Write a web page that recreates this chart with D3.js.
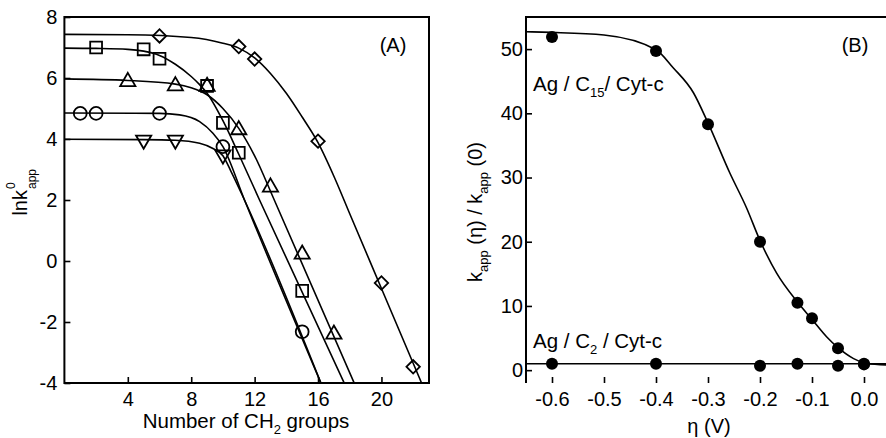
<!DOCTYPE html>
<html>
<head>
<meta charset="utf-8">
<script src="https://cdn.jsdelivr.net/npm/d3@7"></script>
<style>
  body { margin: 0; background: #fff; }
  svg { font-family: "Liberation Sans", Arial, sans-serif; }
  .axis path { display: none; }
  .axis line { stroke: #000; stroke-width: 1.6; }
  .axis text { font-size: 20px; fill: #000; }
</style>
</head>
<body>
<div id="container"></div>
<script>
// ---- panel A: ln k0 vs number of CH2 groups ----
const aTicksX = [4, 8, 12, 16, 20];
const aTicksY = [-4, -2, 0, 2, 4, 6, 8];

const diamondX = [6, 11, 12, 16, 20, 22];
const diamondY = [7.38, 7.03, 6.62, 3.93, -0.72, -3.47];
const squareX = [2, 5, 6, 9, 10, 11, 15];
const squareY = [7.0, 6.94, 6.63, 5.74, 4.53, 3.55, -0.98];
const triangleX = [4, 7, 9, 11, 13, 15, 17];
const triangleY = [5.88, 5.74, 5.72, 4.3, 2.42, 0.22, -2.4];
const circleX = [1, 2, 6, 10, 15];
const circleY = [4.84, 4.84, 4.84, 3.75, -2.32];
const invTriX = [5, 7, 10];
const invTriY = [3.97, 3.97, 3.48];

// fitted curves
const diamondFitX = [0, 4, 8, 10, 11, 12, 13, 14, 15, 16, 17, 18, 20, 22.53];
const diamondFitY = [7.43, 7.42, 7.33, 7.14, 6.98, 6.66, 6.15, 5.5, 4.72, 3.88, 2.78, 1.55, -0.9, -4];
const squareFitX = [0, 2, 4, 5, 6, 7, 8, 8.5, 9, 10, 11, 12.31, 17.65];
const squareFitY = [6.98, 6.97, 6.94, 6.88, 6.74, 6.45, 6.05, 5.8, 5.5, 4.6, 3.5, 2.0, -4];
const triangleFitX = [0, 4, 7, 8, 9, 10, 11, 12, 13.24, 18.28];
const triangleFitY = [5.97, 5.92, 5.8, 5.68, 5.45, 5.0, 4.35, 3.45, 2.0, -4];
const circleFitX = [0, 6, 7.27, 8.53, 9.37, 10, 11.36, 16.18];
const circleFitY = [4.85, 4.84, 4.79, 4.57, 4.19, 3.75, 2.0, -4];
const invTriFitX = [0, 5, 7, 8.53, 9.37, 10, 10.5, 11.36, 16.18];
const invTriFitY = [3.99, 3.98, 3.96, 3.86, 3.69, 3.45, 2.95, 2.0, -4];

// ---- panel B: k(eta)/k(0) vs overpotential ----
const bTicksX = [-0.6, -0.5, -0.4, -0.3, -0.2, -0.1, 0.0];
const bTicksY = [0, 10, 20, 30, 40, 50];

const etaC15 = [-0.6, -0.4, -0.3, -0.2, -0.128, -0.1, -0.05, 0.0];
const ratioC15 = [51.9, 49.7, 38.3, 20.0, 10.5, 8.1, 3.4, 0.9];
const etaC2 = [-0.6, -0.4, -0.2, -0.128, -0.05, 0.0];
const ratioC2 = [1.0, 1.0, 0.7, 1.0, 0.7, 1.0];

const etaFitC15 = [-0.65, -0.6, -0.5, -0.4, -0.367, -0.328, -0.3, -0.258, -0.226, -0.2, -0.168, -0.128, -0.1, -0.072, -0.05, -0.02, 0.005, 0.05];
const ratioFitC15 = [52.7, 52.6, 52.2, 49.9, 47.1, 43.2, 38.5, 30.7, 25.3, 20.2, 15.1, 10.6, 7.9, 5.2, 3.5, 1.8, 1.05, 0.8];
const etaFitC2 = [-0.65, 0.05];
const ratioFitC2 = [1.0, 1.0];

const zip = (xs, ys) => xs.map((x, i) => ({ x, y: ys[i] }));
const hyphen = f => d => f(d).replace('\u2212', '-');

const width = 886;
const height = 438;

const svg = d3.select('#container').append('svg')
  .attr('width', width)
  .attr('height', height);

svg.append('defs').append('clipPath').attr('id', 'clipA')
  .append('rect').attr('x', 64.4).attr('y', 17).attr('width', 364.6).attr('height', 366);
svg.select('defs').append('clipPath').attr('id', 'clipB')
  .append('rect').attr('x', 526).attr('y', 17).attr('width', 364).attr('height', 366);

// ===== panel A =====
const xA = d3.scaleLinear().domain([0, 23]).range([64.4, 429]);
const yA = d3.scaleLinear().domain([-4, 8]).range([383, 17]);

svg.append('g')
  .attr('class', 'axis')
  .attr('transform', 'translate(0,383)')
  .call(d3.axisBottom(xA).tickValues(aTicksX).tickSize(-6).tickSizeOuter(0).tickPadding(9));

svg.append('g')
  .attr('class', 'axis')
  .attr('transform', 'translate(64.4,0)')
  .call(d3.axisLeft(yA).tickValues(aTicksY).tickSize(-6).tickSizeOuter(0).tickPadding(7)
    .tickFormat(hyphen(d3.format('d'))));

const lineA = d3.line().x(d => xA(d.x)).y(d => yA(d.y)).curve(d3.curveMonotoneX);

const fitsA = [
  [diamondFitX, diamondFitY],
  [squareFitX, squareFitY],
  [triangleFitX, triangleFitY],
  [circleFitX, circleFitY],
  [invTriFitX, invTriFitY]
];

svg.append('g').attr('clip-path', 'url(#clipA)')
  .selectAll('path')
  .data(fitsA)
  .enter()
  .append('path')
  .attr('d', f => lineA(zip(f[0], f[1])))
  .attr('fill', 'none')
  .attr('stroke', '#000')
  .attr('stroke-width', 1.6);

const markersA = [
  { pts: zip(diamondX, diamondY), type: d3.symbolSquare, size: 90, rot: 45 },
  { pts: zip(squareX, squareY), type: d3.symbolSquare, size: 140, rot: 0 },
  { pts: zip(triangleX, triangleY), type: d3.symbolTriangle, size: 100, rot: 0 },
  { pts: zip(circleX, circleY), type: d3.symbolCircle, size: 130, rot: 0 },
  { pts: zip(invTriX, invTriY), type: d3.symbolTriangle, size: 100, rot: 180 }
];

markersA.forEach(m => {
  svg.append('g')
    .selectAll('path')
    .data(m.pts)
    .enter()
    .append('path')
    .attr('d', d3.symbol().type(m.type).size(m.size))
    .attr('transform', d => `translate(${xA(d.x)},${yA(d.y)}) rotate(${m.rot})`)
    .attr('fill', 'none')
    .attr('stroke', '#000')
    .attr('stroke-width', 1.8);
});

svg.append('rect')
  .attr('x', 64.4).attr('y', 17).attr('width', 364.6).attr('height', 366)
  .attr('fill', 'none').attr('stroke', '#000').attr('stroke-width', 2);

svg.append('text')
  .attr('x', 393).attr('y', 52)
  .attr('text-anchor', 'middle')
  .attr('font-size', 20)
  .text('(A)');

const xTitleA = svg.append('text')
  .attr('x', 246).attr('y', 428)
  .attr('text-anchor', 'middle')
  .attr('font-size', 20.5);
xTitleA.append('tspan').text('Number of CH');
xTitleA.append('tspan').attr('font-size', 13).attr('dy', 6).text('2');
xTitleA.append('tspan').attr('dy', -6).text(' groups');

const yTitleA = svg.append('g').attr('transform', 'translate(27,190) rotate(-90)');
yTitleA.append('text').attr('x', 0).attr('y', 0).attr('text-anchor', 'end').attr('font-size', 20).text('lnk');
yTitleA.append('text').attr('x', 1).attr('y', -12).attr('font-size', 12).text('0');
yTitleA.append('text').attr('x', 1).attr('y', 9).attr('font-size', 12).text('app');

// ===== panel B =====
const xB = d3.scaleLinear().domain([-0.65, 0.05]).range([526, 890]);
const yB = d3.scaleLinear().domain([-2, 55]).range([383, 17]);

svg.append('g')
  .attr('class', 'axis')
  .attr('transform', 'translate(0,383)')
  .call(d3.axisBottom(xB).tickValues(bTicksX).tickSize(-6).tickSizeOuter(0).tickPadding(9)
    .tickFormat(hyphen(d3.format('.1f'))));

svg.append('g')
  .attr('class', 'axis')
  .attr('transform', 'translate(526,0)')
  .call(d3.axisLeft(yB).tickValues(bTicksY).tickSize(-6).tickSizeOuter(0).tickPadding(3));

const lineB = d3.line().x(d => xB(d.x)).y(d => yB(d.y)).curve(d3.curveMonotoneX);

svg.append('g').attr('clip-path', 'url(#clipB)')
  .selectAll('path')
  .data([zip(etaFitC15, ratioFitC15), zip(etaFitC2, ratioFitC2)])
  .enter()
  .append('path')
  .attr('d', lineB)
  .attr('fill', 'none')
  .attr('stroke', '#000')
  .attr('stroke-width', 1.6);

svg.append('g')
  .selectAll('circle')
  .data(zip(etaC15, ratioC15).concat(zip(etaC2, ratioC2)))
  .enter()
  .append('circle')
  .attr('cx', d => xB(d.x))
  .attr('cy', d => yB(d.y))
  .attr('r', 6)
  .attr('fill', '#000');

svg.append('path')
  .attr('d', 'M526,383V17H890')
  .attr('fill', 'none').attr('stroke', '#000').attr('stroke-width', 2);

svg.append('text')
  .attr('x', 855).attr('y', 52)
  .attr('text-anchor', 'middle')
  .attr('font-size', 20)
  .text('(B)');

const noteC15 = svg.append('text').attr('x', 533).attr('y', 91).attr('font-size', 20.5);
noteC15.append('tspan').text('Ag / C');
noteC15.append('tspan').attr('font-size', 13).attr('dy', 6).text('15');
noteC15.append('tspan').attr('dy', -6).text('/ Cyt-c');

const noteC2 = svg.append('text').attr('x', 533).attr('y', 348).attr('font-size', 20.5);
noteC2.append('tspan').text('Ag / C');
noteC2.append('tspan').attr('font-size', 13).attr('dy', 6).text('2');
noteC2.append('tspan').attr('dy', -6).text(' / Cyt-c');

svg.append('text')
  .attr('x', 709).attr('y', 433)
  .attr('text-anchor', 'middle')
  .attr('font-size', 20)
  .text('η (V)');

const yTitleB = svg.append('text')
  .attr('transform', 'translate(482,212) rotate(-90)')
  .attr('text-anchor', 'middle')
  .attr('font-size', 20);
yTitleB.append('tspan').text('k');
yTitleB.append('tspan').attr('font-size', 13).attr('dy', 6).text('app');
yTitleB.append('tspan').attr('dy', -6).text(' (η) / k');
yTitleB.append('tspan').attr('font-size', 13).attr('dy', 6).text('app');
yTitleB.append('tspan').attr('dy', -6).text(' (0)');
</script>
</body>
</html>
